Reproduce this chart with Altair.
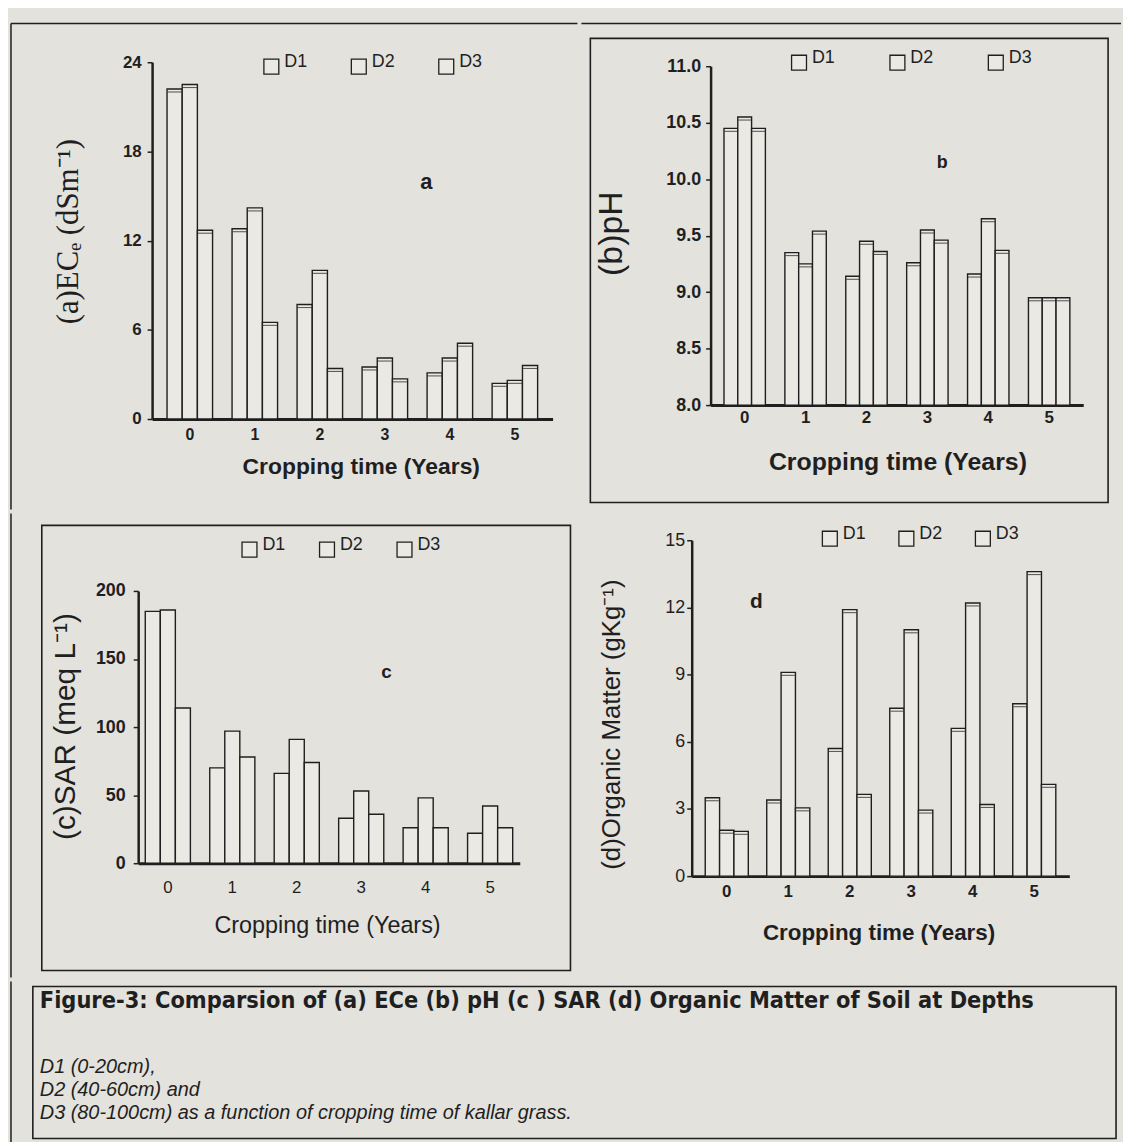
import altair as alt
import pandas as pd

# ---------------- data ----------------
years = ["0", "1", "2", "3", "4", "5"]
depths = ["D1", "D2", "D3"]

ece_d1 = [22.2, 12.8, 7.7, 3.5, 3.1, 2.4]
ece_d2 = [22.5, 14.2, 10.0, 4.1, 4.1, 2.6]
ece_d3 = [12.7, 6.5, 3.4, 2.7, 5.1, 3.6]

ph_d1 = [10.45, 9.35, 9.14, 9.26, 9.16, 8.95]
ph_d2 = [10.55, 9.25, 9.45, 9.55, 9.65, 8.95]
ph_d3 = [10.45, 9.54, 9.36, 9.46, 9.37, 8.95]

sar_d1 = [185, 70, 66, 33, 26, 22]
sar_d2 = [186, 97, 91, 53, 48, 42]
sar_d3 = [114, 78, 74, 36, 26, 26]

om_d1 = [3.5, 3.4, 5.7, 7.5, 6.6, 7.7]
om_d2 = [2.05, 9.1, 11.9, 11.0, 12.2, 13.6]
om_d3 = [2.0, 3.05, 3.65, 2.95, 3.2, 4.1]

ece_ticks = [0, 6, 12, 18, 24]
ph_ticks = [8.0, 8.5, 9.0, 9.5, 10.0, 10.5, 11.0]
sar_ticks = [0, 50, 100, 150, 200]
om_ticks = [0, 3, 6, 9, 12, 15]

x_title = "Cropping time (Years)"
y_titles = ["(a)ECₑ (dSm⁻¹)", "(b)pH", "(c)SAR (meq L⁻¹)", "(d)Organic Matter (gKg⁻¹)"]
panel_letters = ["a", "b", "c", "d"]
caption_title = "Figure-3: Comparsion of (a) ECe  (b) pH (c ) SAR (d) Organic Matter of Soil at Depths"
caption_lines = [
    "D1 (0-20cm),",
    "D2 (40-60cm) and",
    "D3 (80-100cm) as  a function of cropping time of kallar grass.",
]

# ---------------- style ----------------
PAPER = "#e3e2dd"
BARFILL = "#eae9e4"
INK = "#1f1f1f"
SANS = "Liberation Sans"
SERIF = "Liberation Serif"

one = alt.Data(values=[{"k": 0}])


def long_df(d1, d2, d3):
    rows = []
    for dep, ser in zip(depths, [d1, d2, d3]):
        for yr, v in zip(years, ser):
            rows.append({"year": yr, "depth": dep, "value": v})
    return pd.DataFrame(rows)


def frame_layer(x0, x1, y0, y1):
    return alt.Chart(one).mark_rect(fill="transparent", stroke="transparent").encode(
        x=alt.value(x0), x2=alt.value(x1), y=alt.value(y0), y2=alt.value(y1))


def box_layer(x0, x1, y0, y1, sw=1.6):
    return alt.Chart(one).mark_rect(fill="transparent", stroke=INK, strokeWidth=sw).encode(
        x=alt.value(x0), x2=alt.value(x1), y=alt.value(y0), y2=alt.value(y1))


def hline(x0, x1, y, sw=1.5):
    return alt.Chart(one).mark_rule(color=INK, strokeWidth=sw).encode(
        x=alt.value(x0), x2=alt.value(x1), y=alt.value(y))


def vline(x, y0, y1, sw=1.5):
    return alt.Chart(one).mark_rule(color=INK, strokeWidth=sw).encode(
        x=alt.value(x), y=alt.value(y0), y2=alt.value(y1))


def text_layer(txt, x, y, size, weight="bold", font=SANS, style="normal", align="left"):
    return alt.Chart(one).mark_text(
        text=txt, font=font, fontSize=size, fontWeight=weight, fontStyle=style,
        color=INK, align=align, baseline="alphabetic").encode(x=alt.value(x), y=alt.value(y))


def panel(p):
    df = long_df(*p["data"])
    W, H = p["W"], p["H"]
    xax = alt.Axis(
        title=x_title, labelAngle=0, ticks=False, tickSize=0,
        domainWidth=3, domainColor=INK,
        labelFont=SANS, labelFontSize=p["xls"], labelFontWeight=p["xlw"], labelColor=INK,
        labelPadding=p["xlp"],
        titleFont=SANS, titleFontSize=p["xts"], titleFontWeight=p["xtw"], titleColor=INK,
        titleX=p["xtx"], titleY=p["xty"], titleBaseline="middle", titleAlign="center")
    yax = alt.Axis(
        title=p["ytitle"], values=p["ticks"], format=p["fmt"], grid=False,
        offset=p["yoff"],
        domainWidth=2.5, domainColor=INK, tickColor=INK, tickSize=5, tickWidth=1.5,
        labelFont=SANS, labelFontSize=p["yls"], labelFontWeight=p["ylw"], labelColor=INK,
        labelPadding=p["ylp"],
        titleFont=p["ytf"], titleFontSize=p["yts"], titleFontWeight="normal", titleColor=INK,
        titleX=p["ytx"], titleY=p["yty"], titleAngle=270, titleBaseline="middle",
        titleAlign="center")
    legend = alt.Legend(
        orient="none", legendX=p["lx"], legendY=p["ly"], direction="horizontal",
        title=None, symbolType="square", symbolSize=225, symbolStrokeColor=INK,
        symbolStrokeWidth=1.3, labelFont=SANS, labelFontSize=18, labelColor=INK,
        labelOffset=4, columnPadding=p["lcp"], padding=0, labelBaseline="alphabetic")
    xsc = dict(paddingInner=p["pi"], paddingOuter=p["po"])
    if "xrange" in p:
        xsc["range"] = p["xrange"]
    ysc = dict(domain=p["dom"], nice=False, zero=False)
    if "yrange" in p:
        ysc["range"] = p["yrange"]
    xenc = alt.X("year:N", sort=years, scale=alt.Scale(**xsc), axis=xax)
    oenc = alt.XOffset("depth:N", sort=depths, scale=alt.Scale(paddingInner=0, paddingOuter=0))
    yenc = alt.Y("value:Q", scale=alt.Scale(**ysc), axis=yax)
    bars = alt.Chart(df).mark_bar(stroke=INK, strokeWidth=1.4).encode(
        x=xenc, xOffset=oenc, y=yenc,
        y2=alt.datum(p["dom"][0]),
        fill=alt.Fill("depth:N", sort=depths,
                      scale=alt.Scale(domain=depths, range=[BARFILL] * 3), legend=legend),
    )
    layers = [frame_layer(*p["frame"])] + p["extra"] + [bars]
    if p.get("caps"):
        layers.append(
            alt.Chart(df).mark_tick(color=INK, thickness=1.1, size=p["bw"], yOffset=3)
            .encode(x=xenc, xOffset=oenc, y=yenc)
        )
    layers.append(text_layer(p["letter"], p["letxy"][0], p["letxy"][1], p["lets"], align="center"))
    return alt.layer(*layers).properties(width=W, height=H)


# panel A: plot origin at page (152, 58)
pA = dict(
    data=(ece_d1, ece_d2, ece_d3), W=403, H=359, pi=0.3, po=0.23, dom=[0, 24],
    ticks=ece_ticks, fmt="d", ytitle=y_titles[0], ytf=SERIF, yts=31, ytx=-84, yty=170,
    yoff=0, yls=17, ylw="bold", ylp=6,
    xls=16, xlw="bold", xlp=8, xts=23, xtw="bold", xtx=210, xty=48,
    lx=111, ly=-5, lcp=40, letter=panel_letters[0], letxy=(276, 128), lets=22,
    frame=(-144, 428, -50, 450), caps=True, bw=14,
    extra=[hline(-142, 428, -39), vline(-142, -39, 450)],
)
# panel B: plot origin at page (710, 58)
pB = dict(
    data=(ph_d1, ph_d2, ph_d3), W=375, H=345, pi=0.32, po=0.22, dom=[8, 11], yrange=[345, 4],
    ticks=ph_ticks, fmt=".1f", ytitle=y_titles[1], ytf=SANS, yts=34, ytx=-100, yty=172,
    yoff=0, yls=18, ylw="bold", ylp=5,
    xls=17, xlw="bold", xlp=5, xts=25, xtw="bold", xtx=188, xty=57,
    lx=80, ly=-9, lcp=51, letter=panel_letters[1], letxy=(233, 106), lets=18,
    frame=(-130, 413, -50, 450), caps=True, bw=13,
    extra=[box_layer(-121, 400, -24, 443), hline(-130, 413, -39)],
)
# panel C: plot origin at page (152, 535); axis drawn at page x 138
pC = dict(
    data=(sar_d1, sar_d2, sar_d3), W=370, H=325, pi=0.3, po=0.11, dom=[0, 200],
    xrange=[-14, 370], yrange=[325, 51],
    ticks=sar_ticks, fmt="d", ytitle=y_titles[2], ytf=SANS, yts=30, ytx=-73, yty=187,
    yoff=14, yls=18, ylw="bold", ylp=8,
    xls=17, xlw="normal", xlp=16, xts=23.5, xtw="normal", xtx=176, xty=63,
    lx=89, ly=0, lcp=30, letter=panel_letters[2], letxy=(236, 139), lets=19,
    frame=(-144, 428, -27, 440), caps=False,
    extra=[box_layer(-111, 421, -15, 433), vline(-142, -27, 440)],
)
# panel D: plot origin at page (693, 535)
pD = dict(
    data=(om_d1, om_d2, om_d3), W=380, H=338, pi=0.3, po=0.22, dom=[0, 15],
    ticks=om_ticks, fmt="d", ytitle=y_titles[3], ytf=SANS, yts=26, ytx=-81, yty=185,
    yoff=0, yls=18, ylw="normal", ylp=2,
    xls=17, xlw="bold", xlp=7, xts=22.5, xtw="bold", xtx=188, xty=57,
    lx=130, ly=-11, lcp=29, letter=panel_letters[3], letxy=(65, 68), lets=21,
    frame=(-113, 430, -27, 440), caps=True, bw=13,
    extra=[],
)

chartA = panel(pA)
chartB = panel(pB)
chartC = panel(pC)
chartD = panel(pD)

# caption: origin at page (152, 975)
CW, CH = 971, 165
cap_layers = [
    frame_layer(-144, CW, 0, CH),
    box_layer(-120, 970, 5, 158),
    vline(-142, 0, 163),
    hline(-142, 970, 163),
    alt.Chart(one).mark_text(
        text=caption_title, font="Liberation Sans Narrow, DejaVu Sans Condensed, Liberation Sans",
        fontSize=23.5, fontWeight="bold", color=INK, align="left", baseline="alphabetic",
    ).encode(x=alt.value(-113), y=alt.value(27)),
]
for i, line in enumerate(caption_lines):
    cap_layers.append(
        alt.Chart(one).mark_text(
            text=line, font=SANS, fontSize=20, fontStyle="italic", color=INK,
            align="left", baseline="alphabetic",
        ).encode(x=alt.value(-113), y=alt.value([92, 115, 138][i]))
    )
caption = alt.layer(*cap_layers).properties(width=CW, height=CH)

res = dict(x="independent", y="independent", fill="independent", xOffset="independent")
row1 = alt.hconcat(chartA, chartB, spacing=0).resolve_scale(**res).resolve_legend(fill="independent")
row2 = alt.hconcat(chartC, chartD, spacing=0).resolve_scale(**res).resolve_legend(fill="independent")

chart = (
    alt.vconcat(row1, row2, caption, spacing=0)
    .resolve_scale(**res)
    .resolve_legend(fill="independent")
    .properties(padding=0, background=PAPER)
    .configure_view(stroke="transparent")
)

chart.save("out.html", embed_options={"renderer": "svg", "actions": False})
